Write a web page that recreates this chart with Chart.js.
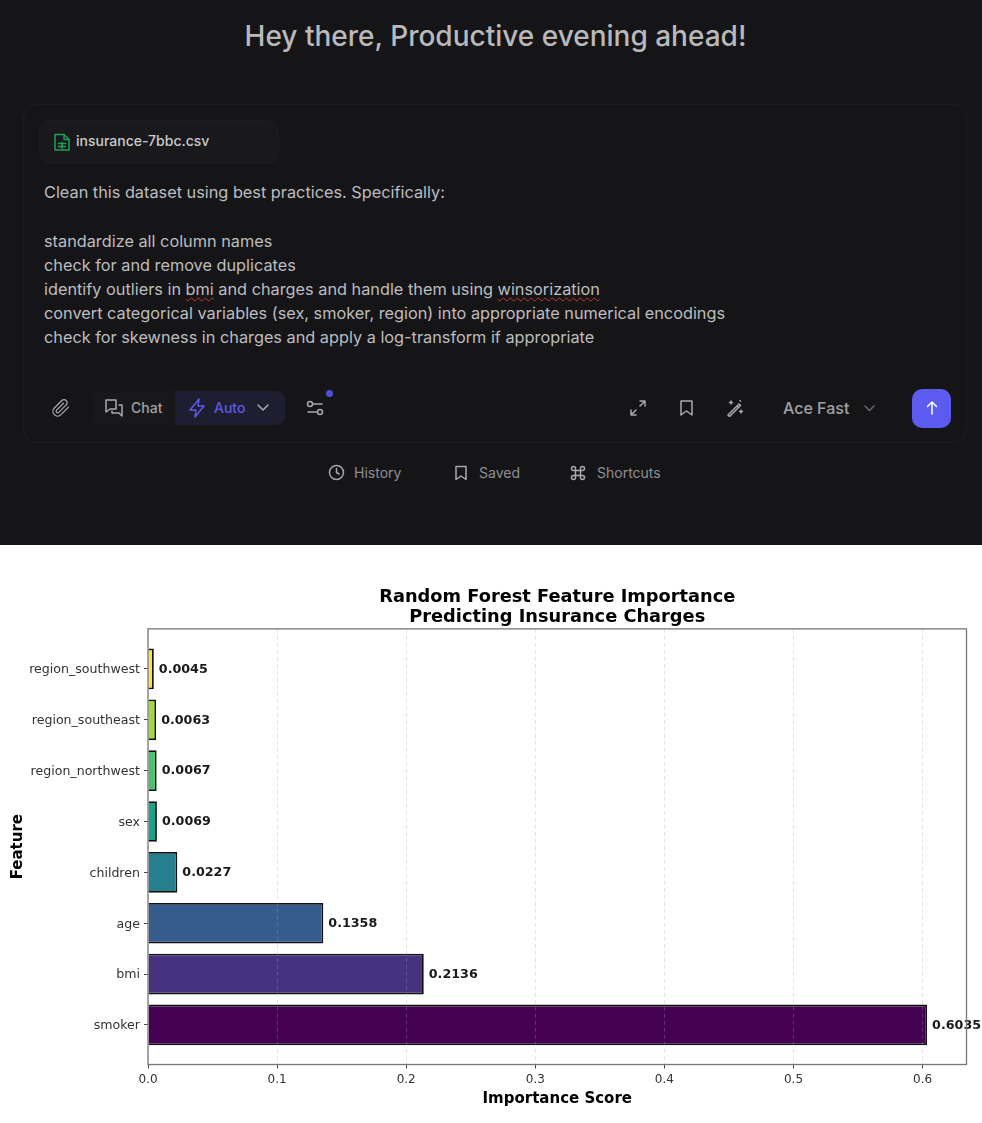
<!DOCTYPE html>
<html><head><meta charset="utf-8">
<script src="https://cdn.jsdelivr.net/npm/chart.js@4"></script>
<style>
html,body{margin:0;padding:0;background:#fff;overflow:hidden}
#page{position:relative;width:982px;height:1123px;overflow:hidden;font-family:Inter,sans-serif;filter:blur(0.35px)}
#dark{position:absolute;left:0;top:0;width:982px;height:545px;background:#151518}
.t{position:absolute;white-space:nowrap;line-height:1}
.ln{color:#bdbdbf;font-size:16.3px;left:44px}
.box{position:absolute;box-sizing:border-box}
svg.i{position:absolute;fill:none;stroke:#a9a9ad;stroke-width:1.5;stroke-linecap:round;stroke-linejoin:round}
.wavy{text-decoration:underline wavy #c0392b 1px;text-underline-offset:2px}
#cw{position:absolute;left:0;top:545px;width:982px;height:578px}
</style></head><body>
<div id="page">
<div id="dark">
<div class="t" style="left:0;width:991px;text-align:center;top:22px;font-size:28px;font-weight:500;color:#b9b9bb">Hey there, Productive evening ahead!</div>
<div class="box" style="left:23px;top:104px;width:944px;height:339px;border:1px solid #1e1e22;border-radius:14px"></div>
<div class="box" style="left:39px;top:120px;width:240px;height:44px;border:1px solid #1d1d21;border-radius:12px;background:#19191c"></div>
<svg class="i" style="left:53px;top:132px;stroke:#1f9d55" width="18" height="20" viewBox="0 0 18 20"><path d="M2 2.5h9l5 5v10.5H2z"/><path d="M11 2.5v5h5M5.500 11.500h7M5.500 14.500h7M9 10.500v6"/></svg>
<div class="t" style="left:76px;top:134px;font-size:14px;font-weight:500;color:#c9c9cb">insurance-7bbc.csv</div>
<div class="t ln" style="top:184px">Clean this dataset using best practices. Specifically:</div>
<div class="t ln" style="top:233px">standardize all column names</div>
<div class="t ln" style="top:257px">check for and remove duplicates</div>
<div class="t ln" style="top:281px">identify outliers in <span class="wavy">bmi</span> and charges and handle them using <span class="wavy">winsorization</span></div>
<div class="t ln" style="top:305px">convert categorical variables (sex, smoker, region) into appropriate numerical encodings</div>
<div class="t ln" style="top:329px">check for skewness in charges and apply a log-transform if appropriate</div>

<svg class="i" style="left:51px;top:398px" width="20" height="20" viewBox="0 0 24 24"><path d="M21 11l-9 9a5.500 5.500 0 0 1-8-8l9-9a3.700 3.700 0 0 1 5.300 5.200l-9 9a1.800 1.800 0 0 1-2.600-2.600l8.300-8.300"/></svg>
<div class="box" style="left:93px;top:391px;width:192px;height:34px;border-radius:9px;background:#18181b"></div>
<div class="box" style="left:175px;top:391px;width:110px;height:34px;border-radius:0 9px 9px 0;background:#1f1e31"></div>
<svg class="i" style="left:104px;top:398px" width="20" height="20" viewBox="0 0 20 20"><path d="M2 2h10v9H6l-4 3zM15 7h3v11l-3-3H8v-2"/></svg>
<div class="t" style="left:131px;top:401px;font-size:14px;font-weight:500;color:#a0a0a4">Chat</div>
<svg class="i" style="left:188px;top:398px;stroke:#5b5be8" width="19" height="20" viewBox="0 0 19 20"><path d="M11 1L2 12h6l-1 7 9-11h-6z"/></svg>
<div class="t" style="left:214px;top:401px;font-size:14px;font-weight:500;color:#5b5be8">Auto</div>
<svg class="i" style="left:256px;top:403px" width="14" height="10" viewBox="0 0 14 10"><path d="M2 2l5 5 5-5"/></svg>
<svg class="i" style="left:306px;top:399px" width="18" height="18" viewBox="0 0 18 18"><circle cx="4" cy="5" r="2.500"/><path d="M7 5h9M2 13h9"/><circle cx="14" cy="13" r="2.500"/></svg>
<div class="box" style="left:326px;top:390px;width:7px;height:7px;border-radius:50%;background:#5050d8"></div>
<svg class="i" style="left:629px;top:399px" width="18" height="18" viewBox="0 0 18 18"><path d="M11 2h5v5M16 2l-5 5M7 16H2v-5M2 16l5-5"/></svg>
<svg class="i" style="left:679px;top:399px" width="15" height="18" viewBox="0 0 15 18"><path d="M2 2h11v14l-5.500-4L2 16z"/></svg>
<svg class="i" style="left:726px;top:399px" width="18" height="18" viewBox="0 0 18 18"><path d="M2 16L13 5l1.500 1.500L3.500 17.500zM11 7l1.500 1.500M5 2v3M3.500 3.500h3M15 11v3M13.500 12.500h3M14 1.500l.5.5"/></svg>
<div class="t" style="left:783px;top:400px;font-size:16px;font-weight:500;color:#a0a0a4">Ace Fast</div>
<svg class="i" style="left:864px;top:405px;stroke:#66666a" width="11" height="7" viewBox="0 0 11 7"><path d="M1 1l4.500 4.500L10 1"/></svg>
<div class="box" style="left:912px;top:389px;width:39px;height:39px;border-radius:10px;background:#5b5bef"></div>
<svg class="i" style="left:925px;top:401px;stroke:#fff" width="14" height="14" viewBox="0 0 14 14"><path d="M7 13V1M2.500 5.500L7 1l4.500 4.500"/></svg>

<svg class="i" style="left:328px;top:464px" width="17" height="17" viewBox="0 0 17 17"><circle cx="8.500" cy="8.500" r="7"/><path d="M8.500 4.500v4l2.500 1.500"/></svg>
<div class="t" style="left:354px;top:466px;font-size:14px;color:#8f8f93">History</div>
<svg class="i" style="left:454px;top:465px" width="14" height="16" viewBox="0 0 14 16"><path d="M2 1.500h10v13l-5-3.500-5 3.500z"/></svg>
<div class="t" style="left:479px;top:466px;font-size:14px;color:#8f8f93">Saved</div>
<svg class="i" style="left:570px;top:465px" width="16" height="16" viewBox="0 0 16 16"><path d="M5.500 5.500h5v5h-5zM5.500 5.500H3.500a2 2 0 1 1 2-2zM10.500 5.500V3.500a2 2 0 1 1 2 2zM10.500 10.500h2a2 2 0 1 1-2 2zM5.500 10.500v2a2 2 0 1 1-2-2z"/></svg>
<div class="t" style="left:597px;top:466px;font-size:14px;color:#8f8f93">Shortcuts</div>
</div>
<div id="cw"><canvas id="c" width="982" height="578"></canvas></div>
</div>
<script>
const categories = ["smoker","bmi","age","children","sex","region_northwest","region_southeast","region_southwest"];
const importance = [0.6035,0.2136,0.1358,0.0227,0.0069,0.0067,0.0063,0.0045];
const barColors = ["#440154","#46327e","#365c8d","#277f8e","#1fa187","#4ac16d","#a0da39","#fde725"];
const xTicks = [0,0.1,0.2,0.3,0.4,0.5,0.6];
const titleLines = ["Random Forest Feature Importance","Predicting Insurance Charges"];
const FF = "'DejaVu Sans'";
const PAD = {left:9,right:15.5,bottom:15};
const PLOT = {left:148,bottom:519.5};

const frame = {id:'frame',afterDraw(ch){const a=ch.chartArea,c=ch.ctx;c.save();c.strokeStyle='#777';c.lineWidth=1.3;c.strokeRect(a.left,a.top,a.right-a.left,a.bottom-a.top);c.restore();}};
const valueLabels = {id:'valueLabels',afterDatasetsDraw(ch){const c=ch.ctx,x=ch.scales.x,y=ch.scales.y;c.save();c.font='bold 12.7px '+FF;c.fillStyle='#1a1a1a';c.textBaseline='middle';c.textAlign='left';
 importance.forEach((v,i)=>c.fillText(v.toFixed(4),x.getPixelForValue(v)+5,y.getPixelForValue(i)+0.5));c.restore();}};

new Chart(document.getElementById('c'),{
 type:'bar',
 data:{datasets:[{data:importance.map((v,i)=>({x:v,y:i})),backgroundColor:barColors,borderColor:'#111',borderWidth:1.8,barPercentage:0.8,categoryPercentage:1}]},
 options:{
  indexAxis:'y',responsive:false,animation:false,
  layout:{padding:PAD},
  plugins:{legend:{display:false},tooltip:{enabled:false},
   title:{display:true,fullSize:false,text:titleLines,font:{family:FF,size:17.8,weight:'bold',lineHeight:1.12},color:'#000',padding:{top:42,bottom:2}}},
  scales:{
   x:{type:'linear',min:0,max:0.634,
    afterBuildTicks(s){s.ticks=xTicks.map(v=>({value:v}));},
    afterFit(s){s.height=578-PLOT.bottom-PAD.bottom;},
    grid:{z:1,color:'rgba(170,170,170,0.3)',tickColor:'#444',tickLength:4,lineWidth:1,drawTicks:true},
    border:{display:false,dash:[4,3]},
    ticks:{font:{family:FF,size:12},color:'#333',padding:4,maxRotation:0,callback:v=>v===0?'0.0':String(v)},
    title:{display:true,text:'Importance Score',font:{family:FF,size:15,weight:'bold'},color:'#000',padding:{top:2,bottom:0}}},
   y:{type:'linear',offset:false,min:-0.778,max:7.788,
    afterBuildTicks(s){s.ticks=categories.map((_,i)=>({value:i}));},
    afterFit(s){s.width=PLOT.left-PAD.left;},
    grid:{offset:false,drawOnChartArea:false,tickColor:'#444',tickLength:4},
    border:{display:false},
    ticks:{font:{family:FF,size:12.6},color:'#333',padding:4,labelOffset:1,callback:v=>categories[v]},
    title:{display:true,text:'Feature',font:{family:FF,size:15,weight:'bold'},color:'#000',padding:{top:0,bottom:0}}}
  }
 },
 plugins:[valueLabels,frame]
});
</script>
</body></html>
